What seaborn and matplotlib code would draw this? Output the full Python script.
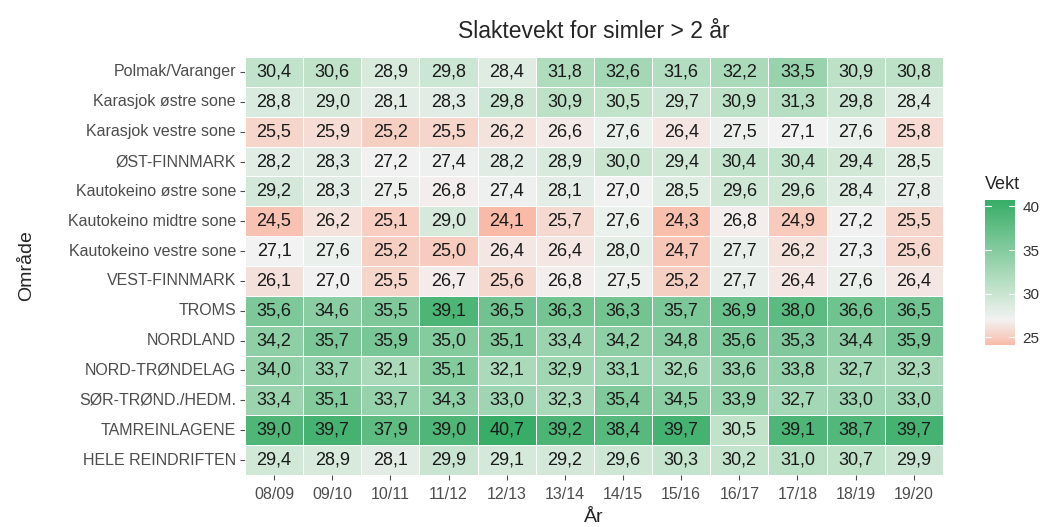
import numpy as np
import pandas as pd
import seaborn as sns
import matplotlib.pyplot as plt
from matplotlib.colors import LinearSegmentedColormap

# Omraader (topp til bunn) og aar
omrader = [
    "Polmak/Varanger", "Karasjok østre sone", "Karasjok vestre sone",
    "ØST-FINNMARK", "Kautokeino østre sone", "Kautokeino midtre sone",
    "Kautokeino vestre sone", "VEST-FINNMARK", "TROMS", "NORDLAND",
    "NORD-TRØNDELAG", "SØR-TRØND./HEDM.", "TAMREINLAGENE", "HELE REINDRIFTEN",
]
aar = ["08/09", "09/10", "10/11", "11/12", "12/13", "13/14",
       "14/15", "15/16", "16/17", "17/18", "18/19", "19/20"]

polmak = [30.4, 30.6, 28.9, 29.8, 28.4, 31.8, 32.6, 31.6, 32.2, 33.5, 30.9, 30.8]
karasjok_ost = [28.8, 29.0, 28.1, 28.3, 29.8, 30.9, 30.5, 29.7, 30.9, 31.3, 29.8, 28.4]
karasjok_vest = [25.5, 25.9, 25.2, 25.5, 26.2, 26.6, 27.6, 26.4, 27.5, 27.1, 27.6, 25.8]
ost_finnmark = [28.2, 28.3, 27.2, 27.4, 28.2, 28.9, 30.0, 29.4, 30.4, 30.4, 29.4, 28.5]
kauto_ost = [29.2, 28.3, 27.5, 26.8, 27.4, 28.1, 27.0, 28.5, 29.6, 29.6, 28.4, 27.8]
kauto_midt = [24.5, 26.2, 25.1, 29.0, 24.1, 25.7, 27.6, 24.3, 26.8, 24.9, 27.2, 25.5]
kauto_vest = [27.1, 27.6, 25.2, 25.0, 26.4, 26.4, 28.0, 24.7, 27.7, 26.2, 27.3, 25.6]
vest_finnmark = [26.1, 27.0, 25.5, 26.7, 25.6, 26.8, 27.5, 25.2, 27.7, 26.4, 27.6, 26.4]
troms = [35.6, 34.6, 35.5, 39.1, 36.5, 36.3, 36.3, 35.7, 36.9, 38.0, 36.6, 36.5]
nordland = [34.2, 35.7, 35.9, 35.0, 35.1, 33.4, 34.2, 34.8, 35.6, 35.3, 34.4, 35.9]
nord_trondelag = [34.0, 33.7, 32.1, 35.1, 32.1, 32.9, 33.1, 32.6, 33.6, 33.8, 32.7, 32.3]
sor_trond = [33.4, 35.1, 33.7, 34.3, 33.0, 32.3, 35.4, 34.5, 33.9, 32.7, 33.0, 33.0]
tamrein = [39.0, 39.7, 37.9, 39.0, 40.7, 39.2, 38.4, 39.7, 30.5, 39.1, 38.7, 39.7]
hele = [29.4, 28.9, 28.1, 29.9, 29.1, 29.2, 29.6, 30.3, 30.2, 31.0, 30.7, 29.9]

df = pd.DataFrame(
    [polmak, karasjok_ost, karasjok_vest, ost_finnmark, kauto_ost, kauto_midt,
     kauto_vest, vest_finnmark, troms, nordland, nord_trondelag, sor_trond,
     tamrein, hele],
    index=omrader, columns=aar)

sns.set_theme(style="white")
plt.rcParams['font.family'] = ['Liberation Sans', 'DejaVu Sans']

vmin, vmax = df.values.min(), df.values.max()
mid = 27.0
pos_mid = (mid - vmin) / (vmax - vmin)
cmap = LinearSegmentedColormap.from_list(
    "vekt", [(0, "#f9bba8"), (pos_mid, "#f2f2f2"),
             (pos_mid + 0.25 * (1 - pos_mid), "#c2e3cb"), (1, "#38ad67")])

fig = plt.figure(figsize=(10.5, 5.27), dpi=100)
ax = fig.add_axes([0.2333, 0.0987, 0.6647, 0.7931])
cax = fig.add_axes([0.938, 0.345, 0.029, 0.275])

labels = df.map(lambda v: f"{v:.1f}".replace(".", ","))
sns.heatmap(df, ax=ax, cbar_ax=cax, cmap=cmap, vmin=vmin, vmax=vmax,
            annot=labels, fmt="", linewidths=0.6, linecolor="white",
            annot_kws={"size": 13, "color": "#1a1a1a"})

ax.set_title("Slaktevekt for simler > 2 år", fontsize=16.5, pad=14)
ax.set_xlabel("År", fontsize=14, labelpad=0)
ax.set_ylabel("Område", fontsize=14)
ax.yaxis.set_label_coords(-0.3, 0.5)
ax.xaxis.set_label_coords(0.5, -0.082)
ax.tick_params(axis="both", length=3.5, width=0.8, color="#4d4d4d",
               labelcolor="#4d4d4d", labelsize=11.5, pad=3, left=True, bottom=True)
ax.tick_params(axis="x", pad=5)
ax.set_yticklabels(omrader, rotation=0)
ax.set_xticklabels(aar, rotation=0)

cax.set_title("Vekt", fontsize=13, loc="left", pad=8)
cax.set_yticks([25, 30, 35, 40])
cax.tick_params(length=0, labelsize=11, labelcolor="#333333", pad=5)
for t in [25, 30, 35, 40]:
    cax.axhline(t, color="white", lw=0.8, xmax=0.2)
    cax.axhline(t, color="white", lw=0.8, xmin=0.8)
for s in cax.spines.values():
    s.set_visible(False)

fig.savefig("out.png", dpi=100)
